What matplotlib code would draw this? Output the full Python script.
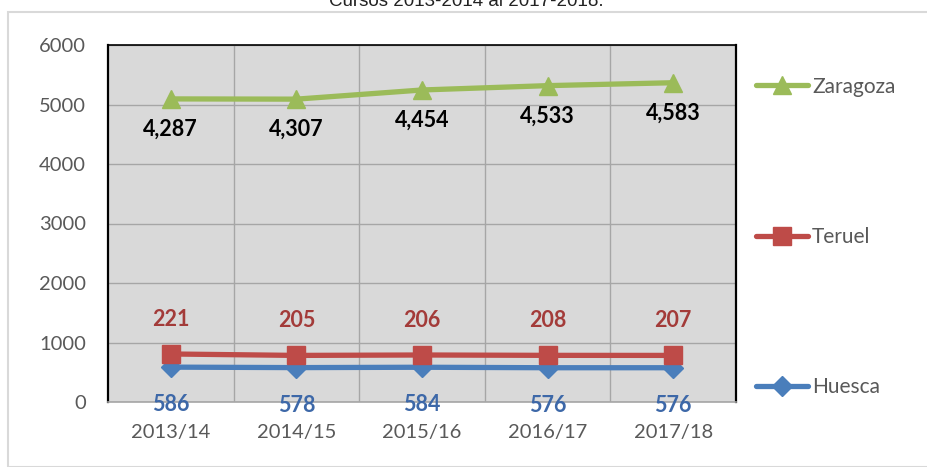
import matplotlib.pyplot as plt
from matplotlib.patches import Rectangle

cursos = ['2013/14', '2014/15', '2015/16', '2016/17', '2017/18']
huesca = [586, 578, 584, 576, 576]
teruel = [221, 205, 206, 208, 207]
zaragoza = [4287, 4307, 4454, 4533, 4583]

# las series van apiladas como en el original
teruel_acum = [h + t for h, t in zip(huesca, teruel)]
zaragoza_acum = [a + z for a, z in zip(teruel_acum, zaragoza)]

fig = plt.figure(figsize=(9.28, 4.67), dpi=100)
ax = fig.add_axes([108 / 928, 1 - 402 / 467, 628 / 928, 357 / 467])
fig.patches.append(Rectangle((8 / 928, 0), 1, 1 - 12 / 467, transform=fig.transFigure,
                             fill=False, edgecolor='#d9d9d9', lw=1.5))

fig.text(466 / 928, 1 - 6 / 467, 'Cursos 2013-2014 al 2017-2018.', ha='center', va='baseline',
         fontsize=13.5, family='Liberation Sans', color='#222222')

x = range(len(cursos))
l_h, = ax.plot(x, huesca, color='#4a7ebb', lw=3.8, marker='D', ms=10, label='Huesca',
               solid_capstyle='round')
l_t, = ax.plot(x, teruel_acum, color='#be4b48', lw=3.8, marker='s', ms=12.5, label='Teruel',
               solid_capstyle='round')
l_z, = ax.plot(x, zaragoza_acum, color='#9bbb59', lw=3.8, marker='^', ms=13, label='Zaragoza',
               solid_capstyle='round')

for i in x:
    ax.annotate(f'{zaragoza[i]:,}', (i, zaragoza_acum[i]), xytext=(0, -22), textcoords='offset points',
                ha='center', va='center', fontsize=15.5, fontweight='bold', family='Lato', color='black')
    ax.annotate(f'{teruel[i]:,}', (i, teruel_acum[i]), xytext=(0, 25), textcoords='offset points',
                ha='center', va='center', fontsize=15.5, fontweight='bold', family='Lato', color='#a33b39')
    ax.annotate(f'{huesca[i]:,}', (i, huesca[i]), xytext=(0, -27), textcoords='offset points',
                ha='center', va='center', fontsize=15.5, fontweight='bold', family='Lato', color='#3d68a8',
                annotation_clip=False)

ax.set_facecolor('#d9d9d9')
ax.set_xlim(-0.5, 4.5)
ax.set_ylim(0, 6000)
ax.set_yticks(range(0, 6001, 1000))
ax.set_xticks(list(x))
ax.set_xticklabels(cursos)
ax.set_xticks([i + 0.5 for i in range(4)], minor=True)
ax.grid(True, which='minor', axis='x', color='#a6a6a6', lw=1)
ax.grid(True, which='major', axis='y', color='#a6a6a6', lw=1)
ax.set_axisbelow(True)
ax.tick_params(axis='both', which='both', length=0)
ax.tick_params(axis='y', pad=16, labelsize=14.5, labelcolor='#595959')
ax.tick_params(axis='x', pad=16, labelsize=14.5, labelcolor='#595959')
for lab in ax.get_xticklabels() + ax.get_yticklabels():
    lab.set_family('Lato')

for s in ['left', 'right']:
    ax.spines[s].set_color('black')
    ax.spines[s].set_linewidth(1.6)
ax.spines['top'].set_color('black')
ax.spines['top'].set_linewidth(1.2)
ax.spines['bottom'].set_color('#a6a6a6')
ax.spines['bottom'].set_linewidth(1.2)

leg = fig.legend(handles=[l_z, l_t, l_h], loc='upper left', bbox_to_anchor=(737 / 928, 1 - 58 / 467),
                 frameon=False, labelspacing=6.25, handlelength=2.5, handletextpad=0.2,
                 prop={'family': 'Lato', 'size': 15})
for t in leg.get_texts():
    t.set_color('#595959')

fig.savefig('out.png', dpi=100)
